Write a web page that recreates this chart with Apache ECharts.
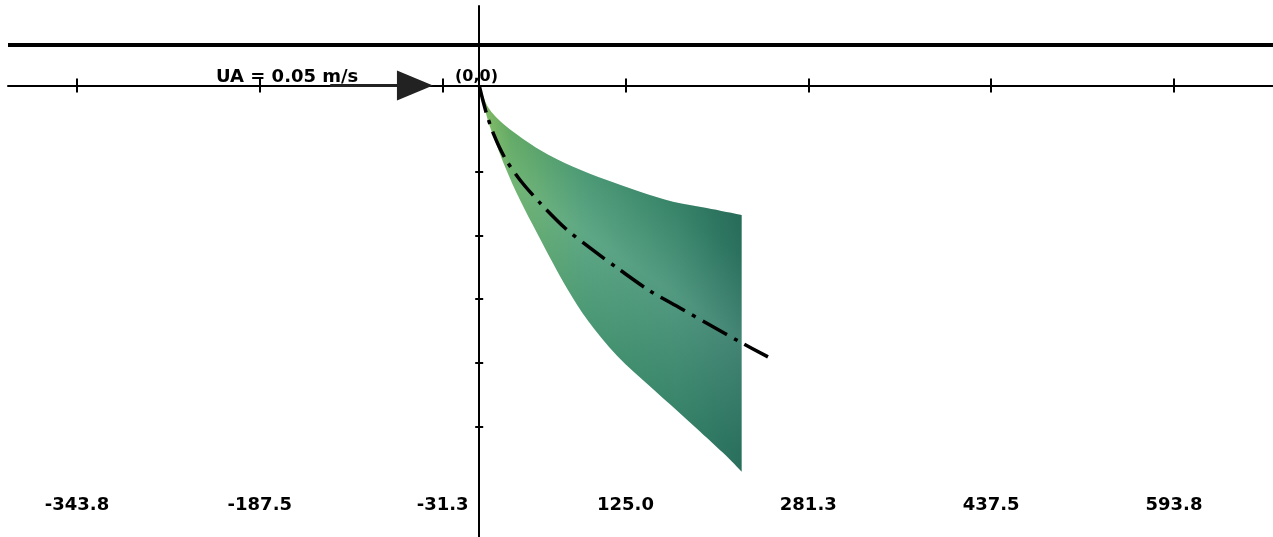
<!DOCTYPE html>
<html><head><meta charset="utf-8">
<script src="https://cdn.jsdelivr.net/npm/echarts@6/dist/echarts.min.js"></script>
<style>html,body{margin:0;padding:0;background:#fff}#c{width:1273px;height:537px}</style>
</head><body><div id="c"></div>
<script>
// ---- data ----
const xTickValues = [-343.75, -187.5, -31.25, 125, 281.25, 437.5, 593.75];
const yTickValues = [-73.9, -128.6, -182.5, -237.2, -291.9];
const plumeUpper = [[0,0],[3.5,-9.5],[9.2,-20.9],[23.5,-35.2],[52,-55.1],[80.2,-69.4],[109,-80.8],[137.4,-90.8],[165.6,-99.3],[194.4,-104.7],[224.3,-110.7]];
const plumeLower = [[0,0],[4.1,-16.7],[9.2,-35.2],[22.1,-69.4],[34.9,-98.0],[49.4,-126.1],[63.1,-152.0],[76.0,-175.0],[93.0,-201.0],[117.8,-231.0],[148.5,-259.5],[180.2,-288.0],[208.4,-314.0],[224.3,-330.1]];
const centerline = [[0,0],[5.8,-22.6],[12.6,-42.3],[22.0,-62.0],[34.9,-80.8],[52.0,-100.4],[73.3,-121.8],[94.7,-138.9],[120.3,-157.7],[145.9,-175.6],[171.6,-190.2],[197.2,-204.7],[222.9,-219.2],[246.8,-232.0]];
const surfaceY = 34.6;
const arrowFrom = -127.3;
const arrowTo = -54.9;
const currentLabel = 'UA = 0.05 m/s';
const originLabel = '(0,0)';
const xMin = -402.7, xMax = 678.4, yMin = -385.9, yMax = 67.9;

const chart = echarts.init(document.getElementById('c'), null, {renderer: 'canvas'});
const FONT = '"DejaVu Sans", "Liberation Sans", sans-serif';

function xAxisBase(extra) {
  return Object.assign({
    type: 'value', min: xMin, max: xMax, position: 'bottom',
    splitLine: {show: false}, axisLabel: {show: false},
    axisTick: {show: false}, axisLine: {show: false}
  }, extra);
}
function yAxisBase(extra) {
  return Object.assign({
    type: 'value', min: yMin, max: yMax, position: 'left',
    splitLine: {show: false}, axisLabel: {show: false},
    axisTick: {show: false}, axisLine: {show: false}
  }, extra);
}

// Catmull-Rom through pixel points -> cubic bezier path commands
function curveCmds(pts) {
  let d = '';
  for (let i = 0; i < pts.length - 1; i++) {
    const p0 = pts[Math.max(i - 1, 0)], p1 = pts[i], p2 = pts[i + 1], p3 = pts[Math.min(i + 2, pts.length - 1)];
    const c1 = [p1[0] + (p2[0] - p0[0]) / 6, p1[1] + (p2[1] - p0[1]) / 6];
    const c2 = [p2[0] - (p3[0] - p1[0]) / 6, p2[1] - (p3[1] - p1[1]) / 6];
    d += ' C' + c1[0] + ',' + c1[1] + ' ' + c2[0] + ',' + c2[1] + ' ' + p2[0] + ',' + p2[1];
  }
  return d;
}

const option = {
  animation: false,
  backgroundColor: '#ffffff',
  grid: {left: 8, right: 0, top: 6, bottom: 0, containLabel: false},
  xAxis: [
    xAxisBase({
      axisLine: {show: true, onZero: true, onZeroAxisIndex: 0, lineStyle: {color: '#000', width: 2}},
      axisTick: {show: true, inside: false, length: 7, customValues: xTickValues, lineStyle: {color: '#000', width: 2}}
    }),
    xAxisBase({
      axisLine: {show: false, onZero: true, onZeroAxisIndex: 1},
      axisTick: {show: true, inside: true, length: 7, customValues: xTickValues, lineStyle: {color: '#000', width: 2}}
    }),
    xAxisBase({
      offset: -41,
      axisLine: {show: false, onZero: false},
      axisLabel: {
        show: true, margin: 0, customValues: xTickValues,
        formatter: v => v.toFixed(1),
        color: '#000', fontSize: 18, fontWeight: 'bold', fontFamily: FONT
      }
    })
  ],
  yAxis: [
    yAxisBase({
      axisLine: {show: true, onZero: true, onZeroAxisIndex: 0, lineStyle: {color: '#000', width: 2}},
      axisTick: {show: true, inside: false, length: 4, customValues: yTickValues, lineStyle: {color: '#000', width: 2}}
    }),
    yAxisBase({
      axisLine: {show: false, onZero: true, onZeroAxisIndex: 1},
      axisTick: {show: true, inside: true, length: 4, customValues: yTickValues, lineStyle: {color: '#000', width: 2}}
    })
  ],
  graphic: [
    {type: 'text', left: 216, top: 68, z: 100,
     style: {text: currentLabel, font: 'bold 18px ' + FONT, fill: '#000'}},
    {type: 'text', left: 455, top: 69, z: 100,
     style: {text: originLabel, font: 'bold 16px ' + FONT, fill: '#000'}}
  ],
  series: [
    {
      type: 'custom',
      xAxisIndex: 0, yAxisIndex: 0,
      data: [[0, 0]],
      silent: true,
      renderItem: function (params, api) {
        const up = plumeUpper.map(p => api.coord(p));
        const lo = plumeLower.map(p => api.coord(p)).reverse();
        const d = 'M' + up[0][0] + ',' + up[0][1] + curveCmds(up) +
                  ' L' + lo[0][0] + ',' + lo[0][1] + curveCmds(lo) + ' Z';
        const all = up.concat(lo);
        let x0 = Infinity, y0 = Infinity, x1 = -Infinity, y1 = -Infinity;
        let rect;
        try {
          rect = echarts.graphic.makePath(d, {}).getBoundingRect();
        } catch (e) {
          all.forEach(p => { x0 = Math.min(x0, p[0]); y0 = Math.min(y0, p[1]); x1 = Math.max(x1, p[0]); y1 = Math.max(y1, p[1]); });
          rect = {x: x0, y: y0, width: x1 - x0, height: y1 - y0};
        }
        const base = new echarts.graphic.LinearGradient(0, 0, 1, 0, [
          {offset: 0, color: '#8cc563'},
          {offset: 0.12, color: '#62ad64'},
          {offset: 0.4, color: '#4c9e78'},
          {offset: 0.75, color: '#3e8d72'},
          {offset: 1, color: '#2e7664'}
        ]);
        const shade = new echarts.graphic.LinearGradient(0, 1, 1, 0, [
          {offset: 0, color: 'rgba(10,60,40,0.35)'},
          {offset: 0.35, color: 'rgba(10,60,40,0.10)'},
          {offset: 0.55, color: 'rgba(255,255,255,0.10)'},
          {offset: 0.7, color: 'rgba(10,60,40,0.10)'},
          {offset: 0.9, color: 'rgba(10,60,40,0.35)'},
          {offset: 1, color: 'rgba(10,60,40,0.4)'}
        ]);
        const shape = {pathData: d, x: rect.x, y: rect.y, width: rect.width, height: rect.height, layout: 'cover'};
        return {type: 'group', children: [
          {type: 'path', shape: Object.assign({}, shape), style: {fill: base}},
          {type: 'path', shape: Object.assign({}, shape), style: {fill: shade}}
        ]};
      },
      markLine: {
        silent: true,
        symbol: ['none', 'triangle'],
        label: {show: false},
        lineStyle: {color: '#222', width: 3, type: 'solid'},
        data: [[
          {coord: [arrowFrom, 0], symbol: 'none'},
          {coord: [arrowTo, 0], symbol: 'triangle', symbolSize: [30, 36], itemStyle: {color: '#3a3a3a'}}
        ]]
      }
    },
    {
      type: 'line',
      xAxisIndex: 0, yAxisIndex: 0,
      data: centerline,
      smooth: 0.3,
      symbol: 'none',
      silent: true,
      lineStyle: {color: '#000', width: 3.5, type: [28, 8, 4, 8]},
      markLine: {
        silent: true,
        symbol: ['none', 'none'],
        label: {show: false},
        lineStyle: {color: '#000', width: 4, type: 'solid'},
        data: [{yAxis: surfaceY}]
      }
    }
  ]
};
chart.setOption(option);
</script>
</body></html>
